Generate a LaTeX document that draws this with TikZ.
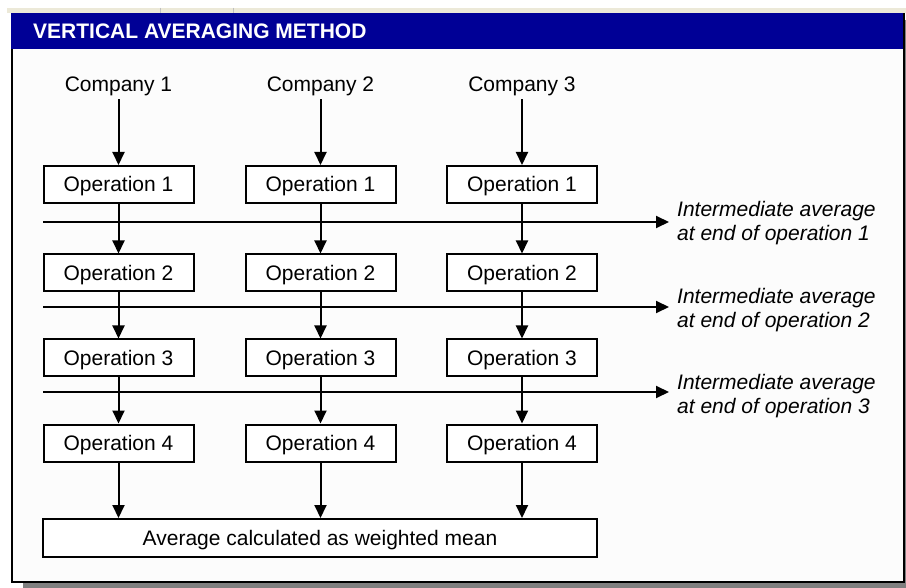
\documentclass[tikz,border=0pt]{standalone}
\usepackage{fontspec}
\setmainfont{Liberation Sans}
\usetikzlibrary{arrows.meta}
\definecolor{titleblue}{RGB}{0,0,150}
\definecolor{xpbeige}{RGB}{236,233,216}
\definecolor{shadowgray}{RGB}{128,128,128}
\begin{document}
\begin{tikzpicture}[x=1pt,y=-1pt,
  opbox/.style={draw=black, line width=2pt, fill=white, minimum width=150pt, minimum height=37pt, inner sep=0pt,
    text height=15pt, text depth=0pt, font=\fontsize{21pt}{24pt}\selectfont},
  complabel/.style={inner xsep=3pt, inner ysep=7.5pt, text height=15pt, text depth=0pt, font=\fontsize{21pt}{24pt}\selectfont},
  avglabel/.style={anchor=west, inner sep=0pt, align=left, font=\fontsize{21pt}{24pt}\selectfont\itshape},
  arr/.style={line width=2pt, -{Triangle[width=12pt,length=13pt]}}
]
\useasboundingbox (0,0) rectangle (906,588);
\fill[white] (0,0) rectangle (906,588);
% window strip
\fill[xpbeige] (7,8) rectangle (906,13);
\draw[line width=0.8pt, black!25] (160,8) -- (160,13);
\draw[line width=0.8pt, black!25] (233,8) -- (233,13);
% shadow
\fill[shadowgray] (23,583) rectangle (906,588);
\fill[shadowgray] (904,20) rectangle (906,588);
% panel
\fill[white!99!black] (12,49) rectangle (904,582);
\fill[titleblue] (11,13) rectangle (904,49);
\draw[line width=2.5pt, black] (12,49) -- (12,582) -- (904,582) -- (904,13);
\node[anchor=west, inner sep=0pt, text=white, font=\fontsize{21pt}{24pt}\selectfont\bfseries] (title) at (33,31) {VERTICAL AVERAGING METHOD};

% companies
\node[complabel] (c1) at (118.5,84) {Company 1};
\node[complabel] (c2) at (320.5,84) {Company 2};
\node[complabel] (c3) at (522,84) {Company 3};

% operations
\foreach \r/\y in {1/184.5, 2/273, 3/358, 4/443} {
  \node[opbox] (o1\r) at (118.5,\y) {Operation \r};
  \node[opbox] (o2\r) at (320.5,\y) {Operation \r};
  \node[opbox] (o3\r) at (522,\y) {Operation \r};
}
\node[opbox, minimum width=554pt, minimum height=38pt] (avg) at (320,538) {Average calculated as weighted mean};

% horizontal arrows and labels
\coordinate (h1s) at (43,222); \coordinate (h1e) at (669,222);
\coordinate (h2s) at (43,307); \coordinate (h2e) at (669,307);
\coordinate (h3s) at (43,392); \coordinate (h3e) at (669,392);
\draw[arr] (h1s) -- (h1e);
\draw[arr] (h2s) -- (h2e);
\draw[arr] (h3s) -- (h3e);
\node[avglabel] (l1) at (677,223.5) {Intermediate average\\at end of operation 1};
\node[avglabel] (l2) at (677,310) {Intermediate average\\at end of operation 2};
\node[avglabel] (l3) at (677,396) {Intermediate average\\at end of operation 3};

% vertical arrows
\foreach \c in {1,2,3} {
  \draw[arr] (c\c.south) -- (o\c1.north);
  \draw[arr] (o\c1.south) -- (o\c2.north);
  \draw[arr] (o\c2.south) -- (o\c3.north);
  \draw[arr] (o\c3.south) -- (o\c4.north);
}
\draw[arr] (o14.south) -- (o14.south |- avg.north);
\draw[arr] (o24.south) -- (o24.south |- avg.north);
\draw[arr] (o34.south) -- (o34.south |- avg.north);
\end{tikzpicture}
\end{document}
